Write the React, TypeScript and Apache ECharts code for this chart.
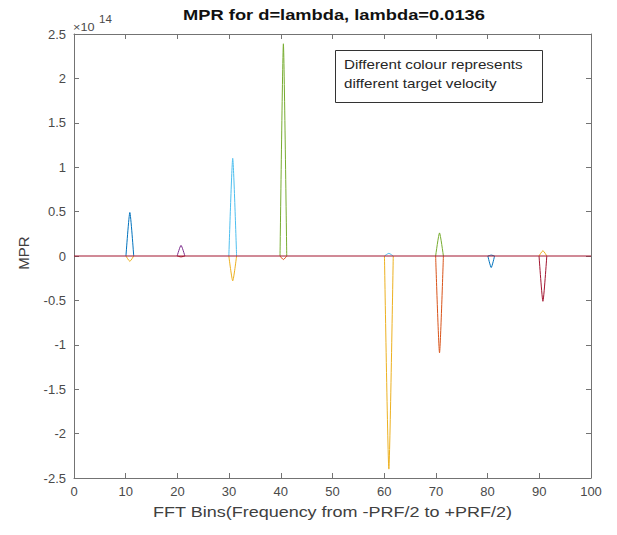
import React, { useEffect, useRef } from "react";
import * as echarts from "echarts";

// Target peaks (FFT bin where each target's response sits)
const targetBins = [10.8, 20.7, 30.7, 40.5, 60.9, 70.7, 80.7, 90.7];
// Zero crossings either side of each target (bins)
const baseLeft = [10.05, 19.95, 29.95, 39.85, 60.05, 69.95, 80.05, 89.95];
const baseRight = [11.55, 21.45, 31.45, 41.15, 61.75, 71.45, 81.35, 91.45];
// Positive and negative extremes of MPR (x 1e14)
const upperPeaks = [0.49, 0.12, 1.1, 2.39, 0.03, 0.26, 0.01, 0.06];
const lowerDips = [-0.06, -0.01, -0.28, -0.04, -2.4, -1.09, -0.13, -0.51];
const upperColors = ["#0072BD", "#7E2F8E", "#4DBEEE", "#77AC30", "#4DBEEE", "#77AC30", "#0072BD", "#EDB120"];
const lowerColors = ["#EDB120", "#A2142F", "#EDB120", "#D95319", "#EDB120", "#D95319", "#0072BD", "#A2142F"];
// Zero reference line
const zeroLineX = [0, 100];
const zeroLineY = [0, 0];

const titleText = "MPR for d=lambda, lambda=0.0136";
const xName = "FFT Bins(Frequency from -PRF/2 to +PRF/2)";
const yName = "MPR";
const noteLines = ["Different colour represents", "different target velocity"];

export default function App() {
  const ref = useRef<HTMLDivElement>(null);
  useEffect(() => {
    if (!ref.current) return;
    const chart = echarts.init(ref.current, null, { renderer: "svg" });
    const font = "'Liberation Sans', Arial, sans-serif";
    const axisColor = "#737373";
    const labelColor = "#4a4a4a";

    const series: any[] = [];
    targetBins.forEach((b, i) => {
      series.push({
        type: "line",
        data: [[baseLeft[i], 0], [b, upperPeaks[i]], [baseRight[i], 0]],
        smooth: 0.2,
        showSymbol: false,
        lineStyle: { color: upperColors[i], width: 1 },
        itemStyle: { color: upperColors[i] },
      });
      series.push({
        type: "line",
        data: [[baseLeft[i], 0], [b, lowerDips[i]], [baseRight[i], 0]],
        smooth: 0.2,
        showSymbol: false,
        lineStyle: { color: lowerColors[i], width: 1 },
        itemStyle: { color: lowerColors[i] },
      });
    });
    series.push({
      type: "line",
      data: zeroLineX.map((x, i) => [x, zeroLineY[i]]),
      showSymbol: false,
      lineStyle: { color: "#A2142F", width: 1 },
      itemStyle: { color: "#A2142F" },
      z: 5,
    });

    const axisCommon = {
      type: "value",
      axisLine: { show: true, onZero: false, lineStyle: { color: axisColor, width: 1 } },
      axisTick: { show: true, inside: true, length: 5, lineStyle: { color: axisColor } },
      splitLine: { show: false },
    };

    chart.setOption({
      animation: false,
      backgroundColor: "#ffffff",
      grid: { left: 74, right: 26, top: 34, bottom: 57, containLabel: false },
      xAxis: [
        {
          ...axisCommon,
          position: "bottom",
          min: 0,
          max: 100,
          interval: 10,
          axisLabel: { color: labelColor, fontSize: 13, fontFamily: font, margin: 7 },
        },
        {
          ...axisCommon,
          position: "top",
          min: 0,
          max: 100,
          interval: 10,
          axisLabel: { show: false },
        },
      ],
      yAxis: [
        {
          ...axisCommon,
          position: "left",
          min: -2.5,
          max: 2.5,
          interval: 0.5,
          axisLabel: { color: labelColor, fontSize: 13, fontFamily: font, margin: 8 },
        },
        {
          ...axisCommon,
          position: "right",
          min: -2.5,
          max: 2.5,
          interval: 0.5,
          axisLabel: { show: false },
        },
      ],
      series,
      graphic: [
        {
          type: "text",
          x: 334,
          y: 15,
          scaleX: 1.22,
          style: {
            text: titleText,
            font: `bold 15px ${font}`,
            fill: "#111111",
            align: "center",
            verticalAlign: "middle",
          },
          z: 10,
        },
        {
          type: "text",
          x: 73,
          y: 27,
          scaleX: 1.15,
          style: {
            text: "×10",
            font: `11px ${font}`,
            fill: labelColor,
            verticalAlign: "middle",
          },
          z: 10,
        },
        {
          type: "text",
          x: 99,
          y: 19,
          scaleX: 1.15,
          style: {
            text: "14",
            font: `10px ${font}`,
            fill: labelColor,
            verticalAlign: "middle",
          },
          z: 10,
        },
        {
          type: "text",
          x: 332.5,
          y: 512,
          scaleX: 1.2,
          style: {
            text: xName,
            font: `15px ${font}`,
            fill: "#404040",
            align: "center",
            verticalAlign: "middle",
          },
          z: 10,
        },
        {
          type: "text",
          x: 23,
          y: 253,
          rotation: Math.PI / 2,
          style: {
            text: yName,
            font: `15px ${font}`,
            fill: "#404040",
            align: "center",
            verticalAlign: "middle",
          },
          z: 10,
        },
        {
          type: "rect",
          shape: { x: 335.5, y: 50.5, width: 207, height: 52 },
          style: { fill: "#ffffff", stroke: "#333333", lineWidth: 1 },
          z: 10,
        },
        {
          type: "text",
          x: 344,
          y: 64,
          scaleX: 1.17,
          style: { text: noteLines[0], font: `13px ${font}`, fill: "#262626", verticalAlign: "middle" },
          z: 11,
        },
        {
          type: "text",
          x: 344,
          y: 83,
          scaleX: 1.17,
          style: { text: noteLines[1], font: `13px ${font}`, fill: "#262626", verticalAlign: "middle" },
          z: 11,
        },
      ],
    });
    return () => chart.dispose();
  }, []);
  return (
    <div
      ref={ref}
      style={{ position: "fixed", left: 0, top: 0, width: 617, height: 535, background: "#fff" }}
    />
  );
}
